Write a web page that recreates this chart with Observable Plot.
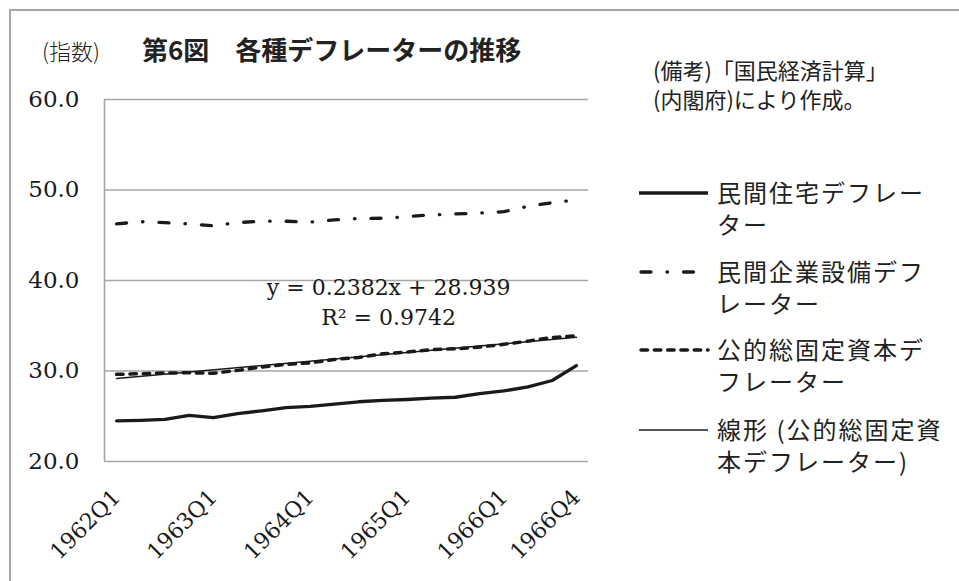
<!DOCTYPE html>
<html>
<head>
<meta charset="utf-8">
<script src="https://cdn.jsdelivr.net/npm/d3@7"></script>
<script src="https://cdn.jsdelivr.net/npm/@observablehq/plot@0.6"></script>
<style>
  html, body { margin: 0; padding: 0; background: #fff; }
  #wrap { position: relative; width: 959px; height: 581px; overflow: hidden; background: #fff; }
  #wrap svg { position: absolute; left: 0; top: 0; }
  .frame { position: absolute; left: 9px; top: 9px; width: 960px; height: 580px;
           border-left: 2px solid #a6a6a6; border-top: 2px solid #a6a6a6; }
  .jp { position: absolute; font-family: "Noto Sans CJK JP", sans-serif; color: #222; white-space: nowrap; }
  .legend-row { position: absolute; left: 639px; }
  .legend-row svg { position: absolute; left: 0; }
  .legend-text { position: absolute; left: 78px; font-family: "Noto Sans CJK JP", sans-serif;
                 font-size: 24px; line-height: 32px; letter-spacing: 2px; color: #222; white-space: nowrap; }
</style>
</head>
<body>
<div id="wrap">
  <div class="frame"></div>
  <div class="jp" style="left:42px; top:37px; font-size:22px; line-height:26px; font-weight:300;">(指数)</div>
  <div class="jp" style="left:142px; top:34px; font-size:26px; line-height:30px; font-weight:700;">第6図　各種デフレーターの推移</div>
  <div class="jp" id="notes" style="left:653px; top:55px; font-size:22px; line-height:29px;"></div>
  <div id="legend"></div>
</div>
<script>
// ---- data ----
const quarters = [
  "1962Q1","1962Q2","1962Q3","1962Q4",
  "1963Q1","1963Q2","1963Q3","1963Q4",
  "1964Q1","1964Q2","1964Q3","1964Q4",
  "1965Q1","1965Q2","1965Q3","1965Q4",
  "1966Q1","1966Q2","1966Q3","1966Q4"
];
const housing  = [24.50, 24.55, 24.65, 25.10, 24.85, 25.30, 25.60, 25.95, 26.10, 26.35,
                  26.60, 26.75, 26.85, 27.00, 27.10, 27.50, 27.80, 28.25, 28.95, 30.60];
const business = [46.25, 46.50, 46.40, 46.25, 46.05, 46.40, 46.55, 46.55, 46.45, 46.70,
                  46.85, 46.88, 47.05, 47.25, 47.35, 47.45, 47.60, 48.20, 48.60, 48.90];
const publicCap = [29.63, 29.70, 29.78, 29.80, 29.75, 30.07, 30.44, 30.73, 30.90, 31.27,
                   31.50, 31.90, 32.10, 32.35, 32.45, 32.65, 32.95, 33.30, 33.70, 33.90];
const xTickLabels = ["1962Q1","1963Q1","1964Q1","1965Q1","1966Q1","1966Q4"];
const yTicks = [20, 30, 40, 50, 60];
const seriesNames = [
  ["民間住宅デフレー", "ター"],
  ["民間企業設備デフ", "レーター"],
  ["公的総固定資本デ", "フレーター"],
  ["線形 (公的総固定資", "本デフレーター)"]
];
const trendLabel = ["y = 0.2382x + 28.939", "R² = 0.9742"];
const notes = ["(備考)「国民経済計算」", "(内閣府)により作成。"];

// ---- tables ----
const toRows = (arr) => arr.map((v, k) => ({i: k + 1, q: quarters[k], v}));
const housingRows = toRows(housing);
const businessRows = toRows(business);
const publicRows = toRows(publicCap);
const xTickIdx = xTickLabels.map(t => quarters.indexOf(t) + 1);

const ink = "#1a1a1a";
const grid = "#a6a6a6";
const serif = "DejaVu Serif, serif";

const chart = Plot.plot({
  width: 959,
  height: 581,
  marginLeft: 104,
  marginRight: 371,
  marginTop: 99,
  marginBottom: 120,
  style: {background: "transparent", fontFamily: serif},
  x: {type: "linear", domain: [0.5, quarters.length + 0.5]},
  y: {domain: [20, 60]},
  marks: [
    Plot.gridY(yTicks, {stroke: grid, strokeOpacity: 1, strokeWidth: 1.6}),
    Plot.ruleX([0.5], {stroke: grid, strokeWidth: 1.6}),
    Plot.axisY({ticks: yTicks, tickSize: 0, tickPadding: 25, fontSize: 23,
                fontFamily: serif, fill: ink, tickFormat: d3.format(".1f"), label: null}),
    Plot.axisX({ticks: xTickIdx, tickSize: 0, tickPadding: 32, tickRotate: -45, fontSize: 22,
                fontFamily: serif, fill: ink, tickFormat: i => quarters[i - 1], label: null}),
    Plot.line(housingRows, {x: "i", y: "v", stroke: ink, strokeWidth: 3.3, strokeLinejoin: "round"}),
    Plot.line(businessRows, {x: "i", y: "v", stroke: ink, strokeWidth: 3.3,
                             strokeDasharray: "10,16,0.5,16", strokeLinecap: "round"}),
    Plot.line(publicRows, {x: "i", y: "v", stroke: ink, strokeWidth: 3.5,
                           strokeDasharray: "6.5,6.8", strokeLinecap: "round"}),
    Plot.linearRegressionY(publicRows, {x: "i", y: "v", stroke: ink, strokeWidth: 1.5, ci: 0}),
    Plot.text([trendLabel[0]], {x: 12.24, y: 39.14, text: d => d, fontSize: 22,
                                fontFamily: serif, fill: ink, textAnchor: "middle"}),
    Plot.text([trendLabel[1]], {x: 12.24, y: 35.82, text: d => d, fontSize: 22,
                                fontFamily: serif, fill: ink, textAnchor: "middle"})
  ]
});
document.getElementById("wrap").appendChild(chart);

// notes
document.getElementById("notes").innerHTML = notes.join("<br>");

// legend
const swatches = [
  {w: 3.3, dash: null, cap: "butt", len: 69},
  {w: 3.3, dash: "10,16,0.5,16", cap: "round", len: 58},
  {w: 3.5, dash: "6.5,6.8", cap: "round", len: 69},
  {w: 1.5, dash: null, cap: "butt", len: 69}
];
const rowCenters = [193, 272, 350, 430];
const legend = document.getElementById("legend");
seriesNames.forEach((lines, k) => {
  const s = swatches[k];
  const row = document.createElement("div");
  row.className = "legend-row";
  row.style.top = (rowCenters[k] - 17) + "px";
  row.innerHTML =
    `<svg width="75" height="34" style="top:0"><line x1="${s.cap === "round" ? 2 : 0}" x2="${s.len}" y1="17" y2="17"
       stroke="${ink}" stroke-width="${s.w}" stroke-linecap="${s.cap}" ${s.dash ? `stroke-dasharray="${s.dash}"` : ""}/></svg>` +
    `<div class="legend-text" style="top:0">${lines.join("<br>")}</div>`;
  legend.appendChild(row);
});
</script>
</body>
</html>
